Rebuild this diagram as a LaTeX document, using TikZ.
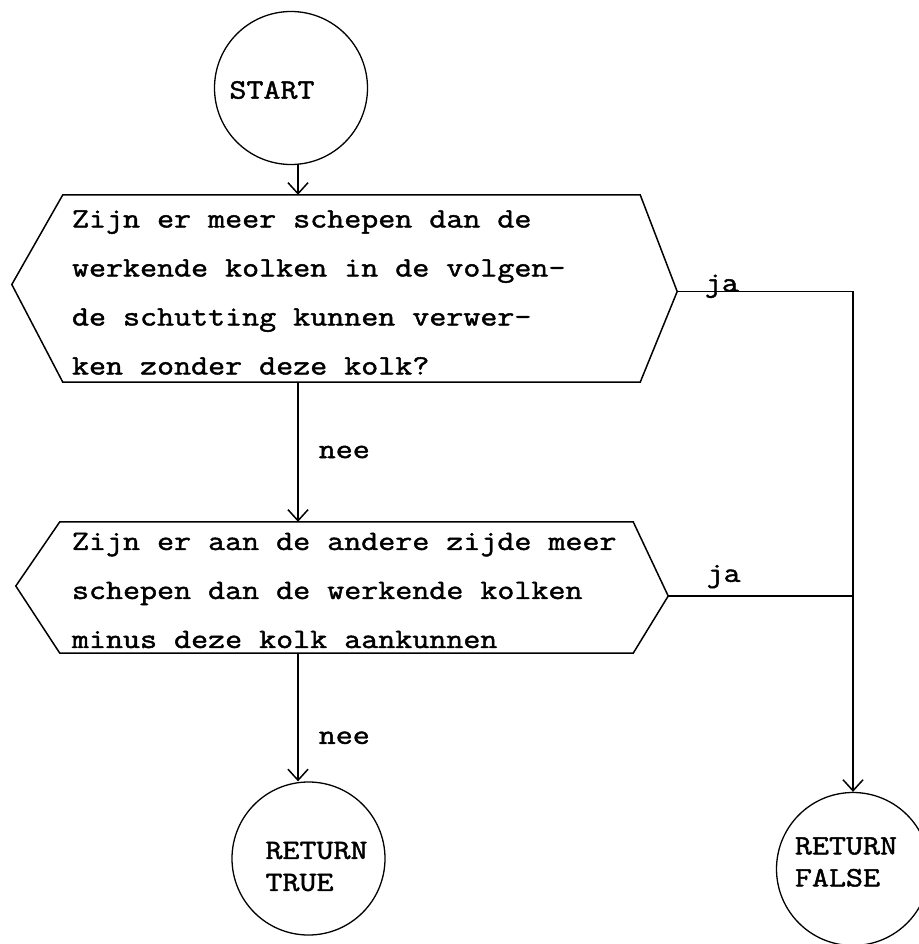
\documentclass[tikz,border=0pt]{standalone}
\usepackage{fontspec}
\setmainfont[FakeStretch=1.18,FakeBold=1.6]{Latin Modern Mono}
\usetikzlibrary{arrows.meta,positioning,calc}

\begin{document}
\begin{tikzpicture}[x=1pt, y=-1pt,
    terminal/.style={
        circle, draw, line width=1.3pt, minimum size=153, inner sep=0
    },
    termtext/.style={
        align=left, inner sep=0, font=\fontsize{28}{32}\selectfont
    },
    body/.style={
        rectangle, draw=none, inner sep=0
    },
    outline/.style={
        line width=1.5pt, line join=miter
    },
    question/.style={
        anchor=west, align=left, inner sep=0, font=\fontsize{28}{49}\selectfont
    },
    answer/.style={
        inner sep=0, font=\fontsize{28}{30}\selectfont
    },
    flow/.style={
        line width=1.5pt, -{Straight Barb[length=11pt, width=20pt]}
    },
    wire/.style={
        line width=1.5pt
    }
]

\useasboundingbox (0,0) rectangle (918,944);

% Start
\node[terminal] (start) at (291,88) {};
\node[termtext] at ([xshift=-19, yshift=-2]start.center) {START};

\coordinate (spine) at (298,0);

% Question 1
\node[body, minimum width=577, minimum height=187] (q1) at (351.5,288.5) {};
\draw[outline] (q1.north west) -- (q1.north east)
    -- ([xshift=37, yshift=-3]q1.east) coordinate (q1tip)
    -- (q1.south east) -- (q1.south west)
    -- ([xshift=-51, yshift=4]q1.west) -- cycle;
\node[question] at ([xshift=9, yshift=-4]q1.west) {Zijn er meer schepen dan de\\werkende kolken in de volgen-\\de schutting kunnen verwer-\\ken zonder deze kolk?};

% Question 2
\node[body, minimum width=573, minimum height=131] (q2) at (346.5,587.5) {};
\draw[outline] (q2.north west) -- (q2.north east)
    -- ([xshift=35, yshift=-8.5]q2.east) coordinate (q2tip)
    -- (q2.south east) -- (q2.south west)
    -- ([xshift=-44, yshift=1.5]q2.west) -- cycle;
\node[question] at ([xshift=12, yshift=-3]q2.west) {Zijn er aan de andere zijde meer\\schepen dan de werkende kolken\\minus deze kolk aankunnen};

% Returns
\node[terminal] (rtrue) at (308.5,858.5) {};
\node[termtext] at ([xshift=8, yshift=-8]rtrue.center) {RETURN\\TRUE};

\node[terminal] (rfalse) at (853,869) {};
\node[termtext] at ([xshift=-7, yshift=7]rfalse.center) {RETURN\\FALSE};

% Connectors
\draw[flow] (start.south -| spine) -- (q1.north -| spine);
\draw[flow] (q1.south -| spine) -- node[answer, right=20pt] {nee} (q2.north -| spine);
\draw[flow] (q2.south -| spine) -- node[answer, right=20pt, pos=0.66] {nee} (rtrue.north -| spine);
\draw[flow] (q1tip) -| node[answer, pos=0.127, anchor=base] {ja} (rfalse.north);
\draw[wire] (q2tip) -- node[answer, pos=0.3, above=7pt] {ja} (q2tip -| rfalse.north);

\end{tikzpicture}
\end{document}
